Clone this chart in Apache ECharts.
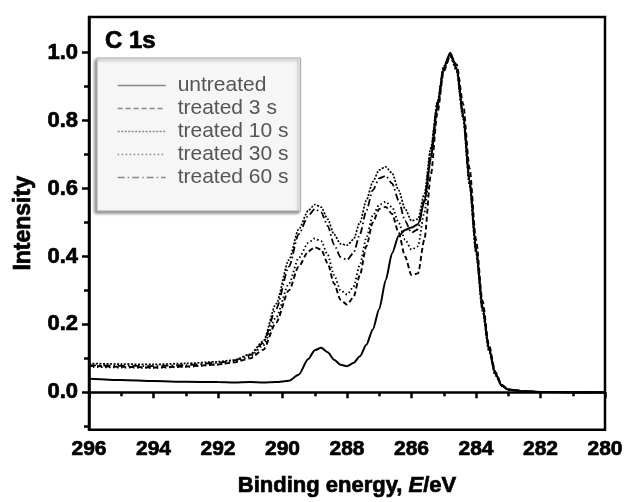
<!DOCTYPE html>
<html>
<head>
<meta charset="utf-8">
<script src="https://cdn.jsdelivr.net/npm/echarts@6/dist/echarts.min.js"></script>
<style>html,body{margin:0;padding:0;background:#fff;}#c{width:629px;height:502px;}</style>
</head>
<body>
<div id="c"></div>
<script>
const energy = [296, 295, 294, 293, 292, 291.5, 291, 290.6, 290.2, 289.8, 289.5, 289.2, 289.0, 288.8, 288.6, 288.4, 288.2, 288.0, 287.8, 287.6, 287.4, 287.2, 287.0, 286.8, 286.6, 286.4, 286.2, 286.0, 285.8, 285.6, 285.4, 285.2, 285.0, 284.8, 284.6, 284.4, 284.2, 284.0, 283.8, 283.6, 283.4, 283.2, 283.0, 282.5, 282, 281, 280];
const untreated = [0.040, 0.036, 0.033, 0.031, 0.030, 0.029, 0.030, 0.029, 0.030, 0.034, 0.052, 0.098, 0.124, 0.131, 0.118, 0.096, 0.081, 0.077, 0.086, 0.106, 0.140, 0.185, 0.245, 0.330, 0.410, 0.460, 0.478, 0.485, 0.495, 0.560, 0.690, 0.840, 0.955, 1.000, 0.955, 0.820, 0.625, 0.425, 0.255, 0.130, 0.055, 0.020, 0.008, 0.003, 0.001, 0.000, 0.000];
const treated3 = [0.078, 0.075, 0.073, 0.076, 0.082, 0.088, 0.100, 0.125, 0.205, 0.300, 0.370, 0.415, 0.427, 0.420, 0.380, 0.320, 0.272, 0.258, 0.280, 0.345, 0.430, 0.500, 0.540, 0.546, 0.525, 0.470, 0.400, 0.345, 0.350, 0.450, 0.640, 0.820, 0.945, 0.990, 0.965, 0.850, 0.660, 0.450, 0.270, 0.140, 0.060, 0.022, 0.008, 0.003, 0.001, 0.000, 0.000];
const treated10 = [0.085, 0.083, 0.082, 0.085, 0.090, 0.095, 0.112, 0.150, 0.260, 0.390, 0.480, 0.535, 0.553, 0.545, 0.510, 0.465, 0.437, 0.433, 0.450, 0.500, 0.565, 0.620, 0.655, 0.664, 0.645, 0.595, 0.540, 0.505, 0.510, 0.585, 0.720, 0.855, 0.960, 0.995, 0.950, 0.810, 0.615, 0.415, 0.245, 0.125, 0.052, 0.019, 0.007, 0.003, 0.001, 0.000, 0.000];
const treated30 = [0.075, 0.073, 0.072, 0.075, 0.082, 0.090, 0.105, 0.138, 0.220, 0.320, 0.395, 0.440, 0.453, 0.445, 0.405, 0.345, 0.300, 0.288, 0.310, 0.375, 0.455, 0.520, 0.552, 0.561, 0.545, 0.500, 0.450, 0.420, 0.430, 0.530, 0.690, 0.840, 0.950, 0.990, 0.945, 0.805, 0.610, 0.410, 0.240, 0.122, 0.050, 0.018, 0.007, 0.003, 0.001, 0.000, 0.000];
const treated60 = [0.080, 0.078, 0.077, 0.080, 0.087, 0.094, 0.110, 0.145, 0.245, 0.370, 0.465, 0.520, 0.540, 0.530, 0.490, 0.435, 0.398, 0.390, 0.410, 0.465, 0.535, 0.595, 0.630, 0.637, 0.615, 0.565, 0.505, 0.470, 0.480, 0.570, 0.710, 0.850, 0.958, 0.995, 0.952, 0.815, 0.620, 0.420, 0.250, 0.128, 0.054, 0.020, 0.008, 0.003, 0.001, 0.000, 0.000];
const seriesNames = ['untreated', 'treated 3 s', 'treated 10 s', 'treated 30 s', 'treated 60 s'];
const yTickValues = [0.0, 0.2, 0.4, 0.6, 0.8, 1.0];
const yMinorValues = [-0.1, 0.1, 0.3, 0.5, 0.7, 0.9];

const font = '"Liberation Sans", Arial, sans-serif';
const heavy = {fontFamily: font, fontWeight: 'bold', color: '#000', textBorderColor: '#000', textBorderWidth: 0.7};
const values = [untreated, treated3, treated10, treated30, treated60];
const dashTypes = ['solid', [5, 3], [2, 1.5], [1.5, 2.5], [7, 3, 1.5, 3]];
const widths = [2, 1.9, 1.7, 1.9, 1.8];

const chart = echarts.init(document.getElementById('c'), null, {renderer: 'canvas'});
chart.setOption({
  animation: false,
  backgroundColor: '#fff',
  title: {
    text: 'C 1s', left: 100, top: 24,
    textStyle: Object.assign({fontSize: 24}, heavy)
  },
  grid: {left: 89, right: 24, top: 17, bottom: 70, show: true, borderColor: '#000', borderWidth: 2.5, backgroundColor: 'transparent'},
  legend: {
    orient: 'vertical', left: 97, top: 58,
    data: seriesNames,
    padding: [17, 12, 23, 20],
    itemWidth: 48, itemHeight: 10, itemGap: 2,
    backgroundColor: '#f6f6f6', borderColor: '#aaa', borderWidth: 1,
    shadowColor: 'rgba(0,0,0,0.45)', shadowBlur: 3, shadowOffsetX: -2, shadowOffsetY: 2,
    itemStyle: {opacity: 0},
    lineStyle: {color: '#888', width: 1.3},
    textStyle: {fontFamily: font, fontSize: 21, color: '#555', lineHeight: 18, padding: [0, 0, 0, 7]}
  },
  xAxis: {
    type: 'value', inverse: true, min: 280, max: 296, interval: 2,
    name: 'Binding energy, {i|E}/eV', nameLocation: 'middle', nameGap: 45,
    nameTextStyle: Object.assign({fontSize: 22,
      rich: {i: Object.assign({fontStyle: 'italic', fontSize: 22}, heavy)}}, heavy),
    axisLine: {show: true, lineStyle: {color: '#000', width: 2.5}},
    axisTick: {show: true, length: 6, lineStyle: {color: '#000', width: 2.5}},
    minorTick: {show: true, splitNumber: 2, length: 4, lineStyle: {color: '#000', width: 2.5}},
    axisLabel: Object.assign({margin: 9, fontSize: 21}, heavy),
    splitLine: {show: false}
  },
  yAxis: [{
    type: 'value', min: -0.11, max: 1.105,
    name: 'Intensity', nameLocation: 'middle', nameGap: 54,
    nameTextStyle: Object.assign({fontSize: 23}, heavy),
    axisLine: {show: true, lineStyle: {color: '#000', width: 2.5}},
    axisTick: {show: true, length: 7, customValues: yTickValues, lineStyle: {color: '#000', width: 2.5}},
    axisLabel: Object.assign({customValues: yTickValues, margin: 11, fontSize: 22,
      formatter: v => Number(v).toFixed(1)}, heavy),
    splitLine: {show: false}
  }, {
    type: 'value', min: -0.11, max: 1.105, position: 'left', offset: 0,
    axisLine: {show: false},
    axisTick: {show: true, length: 5, customValues: yMinorValues, lineStyle: {color: '#000', width: 2.5}},
    axisLabel: {show: false},
    splitLine: {show: false}
  }],
  series: seriesNames.map((name, i) => ({
    name: name, type: 'line', yAxisIndex: 0,
    symbol: 'none', smooth: 0.25, smoothMonotone: 'x',
    color: '#000',
    lineStyle: {color: '#000', width: widths[i], type: dashTypes[i]},
    data: energy.map((e, j) => [e, values[i][j]]),
    z: 5 - i
  }))
});
</script>
</body>
</html>
